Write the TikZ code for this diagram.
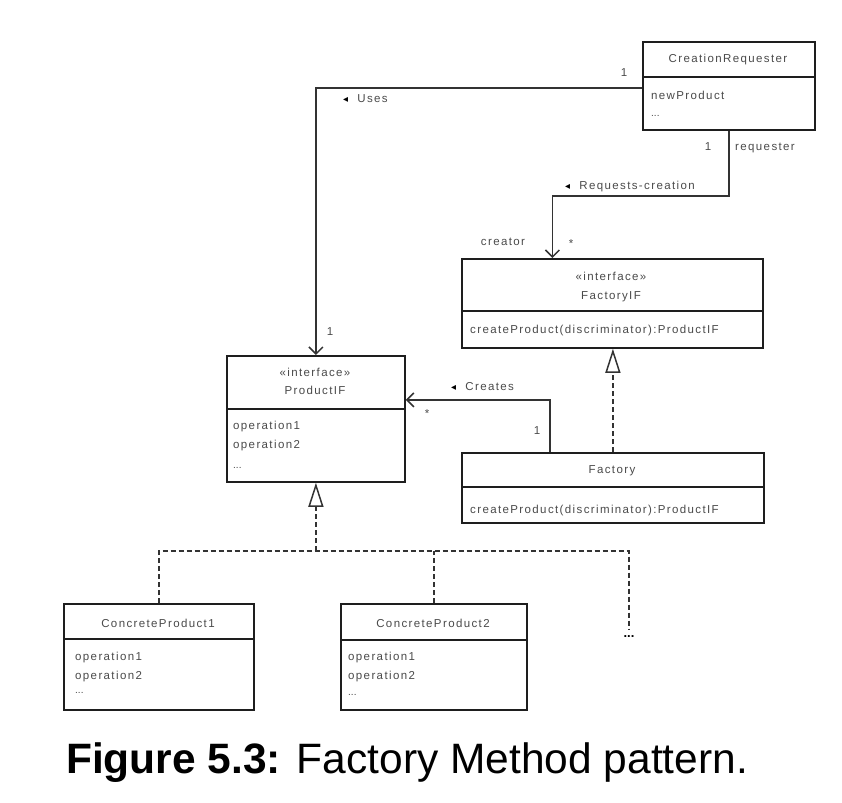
\documentclass[tikz,border=0pt]{standalone}
\usepackage{fontspec}
\setmainfont{Liberation Sans}
\newfontfamily\umlfont[LetterSpace=12]{Liberation Sans}
\newfontfamily\symfont{DejaVu Sans}
\usetikzlibrary{arrows.meta}
\definecolor{boxc}{HTML}{1E1E1E}
\definecolor{linec}{HTML}{333333}
\definecolor{txtc}{HTML}{4A4A4A}
\tikzset{
  boxst/.style={draw=boxc, line width=1.8pt, inner sep=0pt, anchor=north west, fill=white},
  divl/.style={draw=boxc, line width=1.6pt},
  txt/.style={font=\umlfont\fontsize{11.5}{13}\selectfont, text=txtc, inner sep=0pt},
  dots/.style={font=\fontsize{10}{10}\selectfont, text=txtc, inner sep=0pt, anchor=base west},
  assoc/.style={draw=linec, line width=1.5pt, -{Straight Barb[length=7pt,width=14pt,line width=1.5pt]}},
  realz/.style={draw=linec, line width=2pt, dash pattern=on 5pt off 3pt},
  realtip/.style={-{Triangle[open,length=24pt,width=15pt,line width=1.5pt]}},
}
\newcommand{\ltri}{{\symfont\fontsize{10}{10}\selectfont\color{black}◂}}
\begin{document}
\begin{tikzpicture}[x=1pt,y=-1pt]
\useasboundingbox (0,0) rectangle (842,802);

% ---- class boxes ----
\node[boxst, minimum width=172pt, minimum height=88pt] (cr) at (642,41) {};
\node[boxst, minimum width=301pt, minimum height=89pt] (fif) at (461,258) {};
\node[boxst, minimum width=178pt, minimum height=126pt] (pif) at (226,355) {};
\node[boxst, minimum width=302pt, minimum height=70pt] (fac) at (461,452) {};
\node[boxst, minimum width=190pt, minimum height=106pt] (cp1) at (63,603) {};
\node[boxst, minimum width=186pt, minimum height=106pt] (cp2) at (340,603) {};

% ---- dividers ----
\draw[divl] (cr.west |- 0,77) -- (cr.east |- 0,77);
\draw[divl] (fif.west |- 0,311) -- (fif.east |- 0,311);
\draw[divl] (pif.west |- 0,409) -- (pif.east |- 0,409);
\draw[divl] (fac.west |- 0,487) -- (fac.east |- 0,487);
\draw[divl] (cp1.west |- 0,639) -- (cp1.east |- 0,639);
\draw[divl] (cp2.west |- 0,640) -- (cp2.east |- 0,640);

% ---- class texts ----
\node[txt, anchor=base] (crt) at (728,63) {CreationRequester};
\node[txt, anchor=base west] (cra) at (651,100) {newProduct};
\node[dots] (crd) at (651,117) {...};

\node[txt, anchor=base] (fifs) at (611,280) {«interface»};
\node[txt, anchor=base] (fift) at (611,299) {FactoryIF};
\node[txt, anchor=base west] (fifm) at (470,333) {createProduct(discriminator):ProductIF};

\node[txt, anchor=base] (pifs) at (315,376) {«interface»};
\node[txt, anchor=base] (pift) at (315,394) {ProductIF};
\node[txt, anchor=base west] (pifo1) at (233,429) {operation1};
\node[txt, anchor=base west] (pifo2) at (233,448) {operation2};
\node[dots] (pifd) at (233,468) {...};

\node[txt, anchor=base] (fact) at (612,473) {Factory};
\node[txt, anchor=base west] (facm) at (470,513) {createProduct(discriminator):ProductIF};

\node[txt, anchor=base] (cp1t) at (158,627) {ConcreteProduct1};
\node[txt, anchor=base west] (cp1o1) at (75,660) {operation1};
\node[txt, anchor=base west] (cp1o2) at (75,679) {operation2};
\node[dots] (cp1d) at (75,693) {...};

\node[txt, anchor=base] (cp2t) at (433,627) {ConcreteProduct2};
\node[txt, anchor=base west] (cp2o1) at (348,660) {operation1};
\node[txt, anchor=base west] (cp2o2) at (348,679) {operation2};
\node[dots] (cp2d) at (348,695) {...};

\node[font=\bfseries\fontsize{13}{13}\selectfont, inner sep=0pt, anchor=base] (more) at (629,637) {...};

% ---- associations ----
\draw[assoc] ([yshift=-2pt]cr.west) -| (pif.north);
\draw[assoc] (cr.south) -- ++(0,65) -| ([xshift=-60pt]fif.north);
\draw[assoc] ([xshift=-63pt]fac.north) |- ([yshift=19pt]pif.east);

% ---- realizations ----
\draw[realz, realtip] (fac.north) -- (fac.north |- fif.south);
\coordinate (hub) at ([yshift=-68pt]pif.south);
\coordinate (moretop) at ([yshift=6pt]more.north);
\draw[realz] (cp1.north) -- (cp1.north |- hub) -- (moretop |- hub) -- (moretop);
\draw[realz] (cp2.north) -- (cp2.north |- hub);
\draw[realz, realtip] (hub) -- (pif.south);

% ---- association labels ----
\node[txt, anchor=base] (m1) at (624,77) {1};
\node[txt, anchor=base west] (luses) at (343,103) {\ltri\ \ Uses};
\node[txt, anchor=base] (m2) at (708,151) {1};
\node[txt, anchor=base west] (lreq) at (735,151) {requester};
\node[txt, anchor=base west] (lrc) at (565,190) {\ltri\ \ Requests-creation};
\node[txt, anchor=base] (lcre) at (503,245) {creator};
\node[txt, anchor=base] (m3) at (571,247) {*};
\node[txt, anchor=base] (m4) at (330,335) {1};
\node[txt, anchor=base west] (lcr) at (451,390) {\ltri\ \ Creates};
\node[txt, anchor=base] (m5) at (427,417) {*};
\node[txt, anchor=base] (m6) at (537,434) {1};

% ---- caption ----
\node[inner sep=0pt, anchor=base west, font=\fontsize{42.5}{46}\selectfont] (cap) at (66,773) {\textbf{Figure 5.3:} Factory Method pattern.};
\end{tikzpicture}
\end{document}
